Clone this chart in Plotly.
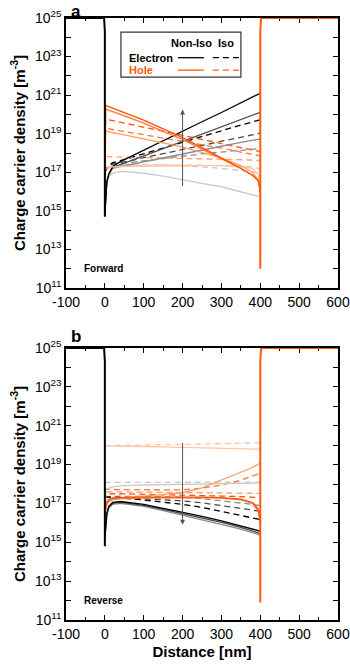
import numpy as np
import plotly.graph_objects as go
from plotly.subplots import make_subplots

# positions along the device [nm]
x_nm = [0, 2, 5, 10, 20, 40, 100, 150, 200, 250, 300, 350, 380, 395, 400]

# contacts (log10 of density)
left_x = [-100, -2, 0, 0]
left_n_fwd = [25, 25, 24.3, 14.7]
left_n_rev = [25, 25, 24.3, 14.8]
right_x = [400, 400, 402, 600]
right_p_fwd = [12.0, 24.3, 25, 25]
right_p_rev = [11.9, 24.3, 25, 25]

# ---- Forward (log10 density), dark -> light
fwd_e_noniso = [
    [14.8, 15.9, 16.5, 16.9, 17.3, 17.55, 18.15, 18.65, 19.15, 19.62, 20.1, 20.6, 20.9, 21.05, 21.1],
    [14.8, 15.9, 16.5, 16.9, 17.25, 17.4, 17.85, 18.22, 18.6, 18.98, 19.35, 19.75, 19.95, 20.07, 20.11],
    [14.9, 15.9, 16.5, 16.85, 17.2, 17.3, 17.55, 17.75, 17.95, 18.15, 18.35, 18.55, 18.65, 18.71, 18.73],
    [15.0, 15.9, 16.4, 16.75, 16.95, 17.05, 16.95, 16.8, 16.6, 16.43, 16.25, 16.0, 15.85, 15.75, 15.69],
]
fwd_e_iso = [
    [17.0, 17.1, 17.2, 17.35, 17.5, 17.6, 17.95, 18.25, 18.55, 18.85, 19.15, 19.45, 19.6, 19.69, 19.72],
    [17.0, 17.1, 17.2, 17.3, 17.45, 17.5, 17.75, 17.97, 18.18, 18.4, 18.6, 18.82, 18.95, 19.0, 19.03],
    [17.0, 17.1, 17.2, 17.3, 17.4, 17.45, 17.6, 17.72, 17.85, 17.95, 18.05, 18.15, 18.2, 18.22, 18.23],
    [17.0, 17.1, 17.2, 17.25, 17.3, 17.35, 17.4, 17.4, 17.35, 17.28, 17.2, 17.1, 17.02, 16.97, 16.95],
]
fwd_h_noniso = [
    [16.3, 20.46, 20.44, 20.4, 20.32, 20.15, 19.7, 19.25, 18.8, 18.28, 17.75, 17.2, 16.85, 16.55, 16.0],
    [16.3, 20.27, 20.25, 20.22, 20.15, 20.0, 19.55, 19.12, 18.7, 18.2, 17.7, 17.2, 16.85, 16.55, 16.0],
    [16.3, 19.14, 19.13, 19.1, 19.05, 18.98, 18.75, 18.53, 18.3, 18.03, 17.75, 17.35, 17.0, 16.6, 16.0],
    [16.3, 17.2, 17.22, 17.25, 17.28, 17.3, 17.32, 17.34, 17.35, 17.35, 17.35, 17.3, 17.2, 16.9, 16.0],
]
fwd_h_iso = [
    [16.3, 19.75, 19.74, 19.72, 19.68, 19.6, 19.35, 19.13, 18.92, 18.7, 18.5, 18.3, 18.18, 18.1, 18.07],
    [16.3, 19.28, 19.27, 19.25, 19.22, 19.15, 18.95, 18.78, 18.6, 18.42, 18.25, 18.05, 17.95, 17.88, 17.85],
    [16.3, 17.81, 17.81, 17.8, 17.8, 17.79, 17.77, 17.75, 17.73, 17.7, 17.68, 17.65, 17.63, 17.6, 17.6],
    [16.3, 17.3, 17.3, 17.32, 17.33, 17.35, 17.37, 17.38, 17.38, 17.37, 17.36, 17.32, 17.28, 17.2, 17.1],
]

# ---- Reverse
rev_e_noniso = [
    [15.2, 16.0, 16.5, 16.85, 17.05, 17.1, 16.95, 16.75, 16.55, 16.33, 16.1, 15.85, 15.7, 15.6, 15.55],
    [15.2, 15.95, 16.45, 16.8, 17.0, 17.05, 16.9, 16.7, 16.48, 16.25, 16.02, 15.77, 15.6, 15.5, 15.45],
    [15.2, 15.9, 16.4, 16.75, 16.95, 17.0, 16.85, 16.63, 16.4, 16.17, 15.93, 15.68, 15.5, 15.4, 15.35],
    [15.5, 17.5, 17.7, 17.8, 17.85, 17.9, 17.95, 17.97, 18.0, 18.02, 18.03, 18.05, 18.05, 18.05, 18.05],
]
rev_e_iso = [
    [17.3, 17.32, 17.33, 17.33, 17.32, 17.28, 17.18, 17.08, 16.95, 16.8, 16.6, 16.4, 16.27, 16.19, 16.15],
    [17.3, 17.32, 17.33, 17.34, 17.33, 17.32, 17.25, 17.2, 17.13, 17.03, 16.9, 16.75, 16.66, 16.6, 16.58],
    [17.3, 17.32, 17.33, 17.35, 17.36, 17.37, 17.36, 17.35, 17.32, 17.25, 17.15, 17.02, 16.95, 16.9, 16.88],
    [18.05, 18.07, 18.08, 18.08, 18.08, 18.09, 18.1, 18.1, 18.1, 18.1, 18.1, 18.1, 18.1, 18.1, 18.1],
]
rev_h_noniso = [
    [16.1, 16.8, 17.05, 17.2, 17.28, 17.3, 17.32, 17.33, 17.33, 17.33, 17.3, 17.22, 17.05, 16.7, 16.0],
    [16.1, 16.7, 16.95, 17.1, 17.2, 17.25, 17.28, 17.29, 17.3, 17.3, 17.27, 17.18, 17.0, 16.6, 16.0],
    [16.1, 16.9, 17.1, 17.2, 17.25, 17.3, 17.38, 17.45, 17.55, 17.8, 18.2, 18.6, 18.85, 19.02, 19.1],
    [19.96, 19.96, 19.96, 19.96, 19.95, 19.95, 19.93, 19.91, 19.89, 19.87, 19.85, 19.82, 19.8, 19.79, 19.79],
]
rev_h_iso = [
    [16.1, 17.45, 17.48, 17.5, 17.5, 17.5, 17.48, 17.45, 17.42, 17.4, 17.38, 17.35, 17.32, 17.3, 17.3],
    [16.1, 17.73, 17.73, 17.72, 17.72, 17.71, 17.7, 17.7, 17.7, 17.78, 17.95, 18.2, 18.4, 18.5, 18.55],
    [16.1, 17.6, 17.6, 17.6, 17.6, 17.6, 17.58, 17.57, 17.56, 17.55, 17.55, 17.54, 17.53, 17.52, 17.52],
    [19.96, 19.97, 19.97, 19.98, 19.98, 19.99, 20.0, 20.02, 20.04, 20.06, 20.08, 20.1, 20.12, 20.13, 20.13],
]

grays = ['#000000', '#4a4a4a', '#8c8c8c', '#cacaca']
oranges = ['#ff5208', '#ff7636', '#ff9c68', '#ffc6a3']
ORANGE = '#ff5a10'
FONT = 'Arial, Liberation Sans, sans-serif'

fig = make_subplots(rows=2, cols=1)


def add_group(row, curves, colors, dash):
    # light first, dark on top
    for vals, c in reversed(list(zip(curves, colors))):
        fig.add_trace(go.Scatter(x=x_nm, y=np.power(10.0, vals), mode='lines',
                                 line=dict(color=c, width=1.3, dash=dash),
                                 showlegend=False, hoverinfo='skip'), row=row, col=1)


for row, en, ei, hn, hi, ln, rp in [
        (1, fwd_e_noniso, fwd_e_iso, fwd_h_noniso, fwd_h_iso, left_n_fwd, right_p_fwd),
        (2, rev_e_noniso, rev_e_iso, rev_h_noniso, rev_h_iso, left_n_rev, right_p_rev)]:
    add_group(row, ei, grays, '6px,4px')
    add_group(row, hi, oranges, '6px,4px')
    add_group(row, en, grays, 'solid')
    add_group(row, hn, oranges, 'solid')
    fig.add_trace(go.Scatter(x=left_x, y=np.power(10.0, ln), mode='lines',
                             line=dict(color='#000000', width=2), showlegend=False), row=row, col=1)
    fig.add_trace(go.Scatter(x=right_x, y=np.power(10.0, rp), mode='lines',
                             line=dict(color=ORANGE, width=2), showlegend=False), row=row, col=1)

odd_exps = list(range(11, 26, 2))
even_exps = list(range(12, 25, 2))
xticks = list(range(-100, 601, 100))

fig.update_xaxes(range=[-100, 600], tickvals=xticks, ticktext=[str(v) for v in xticks],
                 ticks='inside', ticklen=5, tickwidth=1.2, tickcolor='black',
                 minor=dict(tickvals=list(range(-50, 600, 100)), ticks='inside', ticklen=3, tickcolor='black'),
                 showline=True, linecolor='black', linewidth=1.5, mirror='allticks',
                 showgrid=False, zeroline=False, layer='below traces', automargin=False,
                 tickfont=dict(family=FONT, size=14, color='black'))
fig.update_yaxes(type='log', range=[11, 25], tickvals=[10.0 ** k for k in odd_exps],
                 ticktext=['10<sup>%d</sup>' % k for k in odd_exps],
                 ticks='inside', ticklen=5, tickwidth=1.2, tickcolor='black',
                 minor=dict(tickvals=[10.0 ** k for k in even_exps], ticks='inside', ticklen=5, tickcolor='black'),
                 showline=True, linecolor='black', linewidth=1.5, mirror='allticks',
                 showgrid=False, zeroline=False, layer='below traces', automargin=False,
                 tickfont=dict(family=FONT, size=14, color='black'),
                 title=dict(text='<b>Charge carrier density [m<sup>-3</sup>]</b>',
                            font=dict(family=FONT, size=15, color='black'), standoff=6))
fig.update_layout(yaxis=dict(domain=[0.5515, 1.0]), yaxis2=dict(domain=[0.0, 0.4518]),
                  xaxis2=dict(title=dict(text='<b>Distance [nm]</b>',
                                         font=dict(family=FONT, size=15, color='black'), standoff=6)))

# arrows showing increasing bias
fig.add_annotation(x=200, y=20.25, ax=200, ay=16.2, xref='x', yref='y', axref='x', ayref='y',
                   showarrow=True, arrowhead=2, arrowsize=1, arrowwidth=1, arrowcolor='#555555', text='')
fig.add_annotation(x=200, y=15.9, ax=200, ay=20.2, xref='x2', yref='y2', axref='x2', ayref='y2',
                   showarrow=True, arrowhead=2, arrowsize=1, arrowwidth=1, arrowcolor='#555555', text='')

fig.add_annotation(x=-60, y=12.0, xref='x', yref='y', text='<b>Forward</b>', showarrow=False,
                   xanchor='left', yanchor='middle', font=dict(family=FONT, size=10, color='black'))
fig.add_annotation(x=-60, y=12.0, xref='x2', yref='y2', text='<b>Reverse</b>', showarrow=False,
                   xanchor='left', yanchor='middle', font=dict(family=FONT, size=10, color='black'))

# panel letters
fig.add_annotation(x=0.01, y=1.0 + 18 / 602, xref='x domain', yref='paper', text='<b>a</b>', showarrow=False,
                   xanchor='left', yanchor='top', font=dict(family=FONT, size=17, color='black'))
fig.add_annotation(x=0.01, y=1.0, xref='x2 domain', yref='y2 domain', text='<b>b</b>', showarrow=False,
                   xanchor='left', yanchor='bottom', font=dict(family=FONT, size=17, color='black'))

# legend box
fig.add_shape(type='rect', xref='x domain', yref='y domain', x0=0.202, x1=0.643, y0=0.781, y1=0.948,
              line=dict(color='#333333', width=1.2), fillcolor='white', layer='above')
lg_font = dict(family=FONT, size=11, color='black')
fig.add_annotation(x=0.462, y=0.908, xref='x domain', yref='y domain', showarrow=False,
                   text='<b>Non-Iso</b>', xanchor='center', yanchor='middle', font=lg_font)
fig.add_annotation(x=0.588, y=0.908, xref='x domain', yref='y domain', showarrow=False,
                   text='<b>Iso</b>', xanchor='center', yanchor='middle', font=lg_font)
fig.add_annotation(x=0.224, y=0.853, xref='x domain', yref='y domain', showarrow=False,
                   text='<b>Electron</b>', xanchor='left', yanchor='middle', font=lg_font)
fig.add_annotation(x=0.224, y=0.807, xref='x domain', yref='y domain', showarrow=False,
                   text='<b>Hole</b>', xanchor='left', yanchor='middle',
                   font=dict(family=FONT, size=11, color=ORANGE))
for yy, col in [(0.853, '#000000'), (0.807, ORANGE)]:
    fig.add_shape(type='line', xref='x domain', yref='y domain', x0=0.412, x1=0.507, y0=yy, y1=yy,
                  line=dict(color=col, width=1.3), layer='above')
    fig.add_shape(type='line', xref='x domain', yref='y domain', x0=0.540, x1=0.636, y0=yy, y1=yy,
                  line=dict(color=col, width=1.3, dash='6px,4px'), layer='above')

fig.update_layout(width=350, height=668, margin=dict(l=66, r=12, t=18, b=48, autoexpand=False),
                  plot_bgcolor='white', paper_bgcolor='white', showlegend=False)
fig.write_html('out.html', config={'displayModeBar': False},
               post_script="document.body.style.margin='0px';")
